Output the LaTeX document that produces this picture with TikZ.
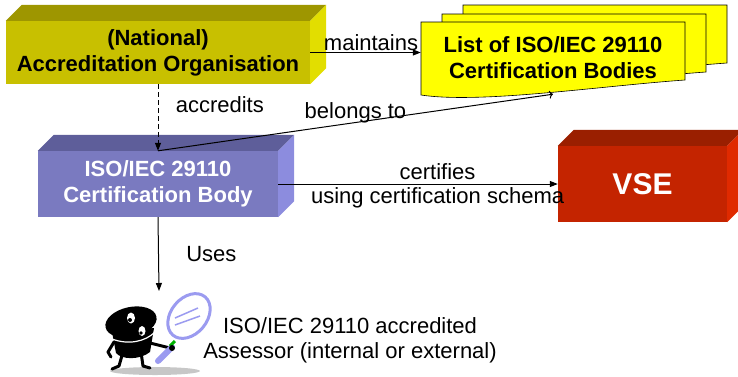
\documentclass[tikz,border=0pt]{standalone}
\usepackage{fontspec}
\setmainfont{Liberation Sans}
\usetikzlibrary{arrows.meta}

\definecolor{natFront}{RGB}{200,192,0}
\definecolor{natTop}{RGB}{158,150,0}
\definecolor{natSide}{RGB}{226,222,0}
\definecolor{cbFront}{RGB}{122,122,192}
\definecolor{cbTop}{RGB}{94,94,154}
\definecolor{cbSide}{RGB}{140,140,222}
\definecolor{vseFront}{RGB}{196,36,0}
\definecolor{vseTop}{RGB}{154,31,0}
\definecolor{vseSide}{RGB}{224,42,0}
\definecolor{paper}{RGB}{255,255,0}
\definecolor{lens}{RGB}{155,155,240}

\begin{document}
\begin{tikzpicture}[x=1pt, y=-1pt,
    txt/.style={font=\fontsize{22}{25}\selectfont},
    block/.style={inner sep=0pt, align=center, font=\bfseries\fontsize{22}{26}\selectfont},
    link/.style={-{Triangle[length=8pt,width=6pt]}, line width=1pt},
    page/.style={fill=paper, draw=black, line width=0.6pt},
    limb/.style={line width=3pt, line cap=round, line join=round}]
    \useasboundingbox (0,0) rectangle (738,376);
    \clip (0,0) rectangle (738,376);

    % Blocchi
    \node[block, fill=natFront, minimum width=304pt, minimum height=63pt] (nat) at (158,52.5) {(National)\\Accreditation Organisation};
    \node[block, fill=cbFront, text=white, minimum width=240pt, minimum height=66pt] (cb) at (158,184) {ISO/IEC 29110\\Certification Body};
    \node[block, fill=vseFront, text=white, minimum width=169pt, minimum height=76pt, font=\bfseries\fontsize{30}{34}\selectfont] (vse) at (642.5,184) {VSE};

    % Facce in rilievo
    \foreach \n/\t/\s in {nat/natTop/natSide, cb/cbTop/cbSide, vse/vseTop/vseSide} {
        \fill[\t] (\n.north west) -- ++(16,-16) -- ([shift={(16,-16)}]\n.north east) -- (\n.north east) -- cycle;
        \fill[\s] (\n.north east) -- ++(16,-16) -- ([shift={(16,-16)}]\n.south east) -- (\n.south east) -- cycle;
    }

    % Fogli dell'elenco
    \foreach \dx/\dy in {42/-17, 21/-8, 0/0}
        \filldraw[page, shift={(\dx,\dy)}] (421,22) -- (685,22) -- (685,80) .. controls (600,86) and (480,104) .. (421,95) -- cycle;
    \node[block, minimum width=264pt, minimum height=72pt] (list) at (553,58) {List of ISO/IEC 29110\\Certification Bodies};

    % Omino con la lente
    \coordinate (guy) at (159,291);
    \fill[black!22] (155,371) ellipse [x radius=45, y radius=4];
    \draw[limb] (123,352) -- (119,366) -- (112,369);
    \draw[limb] (141,352) -- (143,366) -- (150,368);
    \draw[limb] (114,342) -- (108,352) -- (111,357);
    \fill (112,332) -- (154,328) -- (150,352) .. controls (140,360) and (122,360) .. (116,353) -- cycle;
    \fill[rotate around={12:(131,322)}] (131,322) ellipse [x radius=26, y radius=15];
    \draw[white, line width=1.2pt] (112,339) .. controls (128,345) and (145,342) .. (155,332);
    \fill[white] (131,318) ellipse [x radius=4, y radius=5.5];
    \fill[white] (142,331) ellipse [x radius=3.5, y radius=5];
    \fill (130,320) circle [radius=2];
    \fill (141,333) circle [radius=1.8];
    \draw[limb] (150,343) -- (170,348);
    \draw[lens, line width=6pt, line cap=round] (158,361) -- (172,347);
    \draw[green!70!black, line width=3pt] (170,346) -- (175,341);
    \fill (172,348) circle [radius=3];
    \filldraw[fill=white, draw=lens, line width=3pt, rotate around={50:(189,316)}] (189,316) ellipse [x radius=25, y radius=18];
    \draw[lens, line width=1.5pt] (175,318) -- (198,308);
    \draw[lens, line width=1.5pt] (175,325) -- (200,316);
    \node[txt, align=center] (who) at (350,340) {ISO/IEC 29110 accredited\\Assessor (internal or external)};

    % Archi
    \draw[link] (nat.east) -- (nat.east -| list.west) node[txt, pos=0.55, anchor=base, yshift=2.5pt] {maintains};
    \draw[link, dash pattern=on 5pt off 3pt] (nat.south) -- (cb.north) node[txt, pos=0.3, right=14pt] {accredits};
    \draw[->, line width=1pt] (cb.north) -- (list.south) node[txt, midway, anchor=base, yshift=4.5pt] {belongs to};
    \draw[link] (cb.east) -- (vse.west) node[txt, pos=0.57, above] {certifies} node[txt, pos=0.57, below] {using certification schema};
    \draw[link] (cb.south) -- (guy) node[txt, midway, right=24pt] {Uses};
\end{tikzpicture}
\end{document}
